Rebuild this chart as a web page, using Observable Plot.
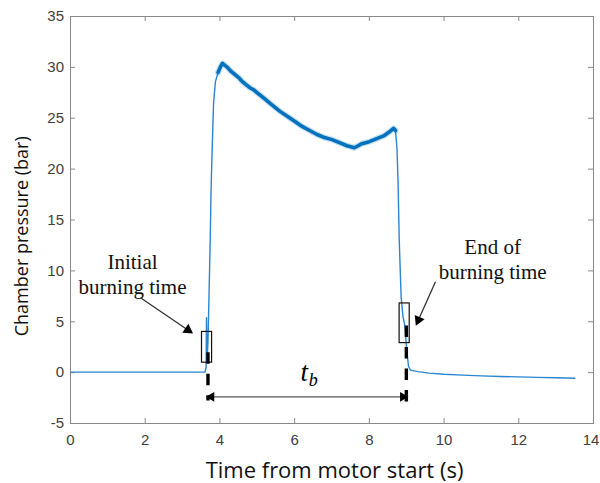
<!DOCTYPE html>
<html>
<head>
<meta charset="utf-8">
<script src="https://cdn.jsdelivr.net/npm/d3@7"></script>
<script src="https://cdn.jsdelivr.net/npm/@observablehq/plot@0.6"></script>
<style>
  html, body { margin: 0; padding: 0; background: #fff; }
  svg { display: block; }
</style>
</head>
<body>
<div id="chart"></div>
<script>
// Pressure trace
const time = [0, 1, 2, 3, 3.60, 3.63, 3.64, 3.655, 3.68, 3.71, 3.74, 3.76, 3.79, 3.83, 3.88, 3.95, 4.02, 4.07,
  4.1, 4.2, 4.3, 4.4, 4.5, 4.6, 4.7, 4.8, 4.9, 5.0, 5.2, 5.4, 5.6, 5.8, 6.0, 6.2, 6.4, 6.6, 6.8, 7.0, 7.2, 7.4, 7.6,
  7.7, 7.8, 8.0, 8.2, 8.4, 8.55, 8.65, 8.7, 8.74, 8.77, 8.80, 8.85, 8.9, 8.95, 9.0, 9.05, 9.1, 9.3, 9.6, 10, 10.5,
  11, 11.5, 12, 12.5, 13, 13.5];
const pressure = [0.05, 0.05, 0.05, 0.05, 0.05, 0.5, 5.4, 1.2, 3, 8, 13, 17.5, 21.7, 26.5, 28.6, 29.5, 30.1, 30.4,
  30.3, 30.0, 29.6, 29.3, 29.0, 28.6, 28.3, 28.0, 27.8, 27.5, 26.9, 26.3, 25.7, 25.2, 24.7, 24.2, 23.8, 23.4, 23.1, 22.9, 22.6, 22.3, 22.1,
  22.3, 22.5, 22.7, 23.0, 23.3, 23.7, 24.0, 23.8, 22, 18.5, 13, 7.5, 5.5, 4.6, 2.2, 0.6, 0.25, 0.1, -0.05, -0.16, -0.25,
  -0.32, -0.38, -0.42, -0.47, -0.51, -0.55];

// Axis ticks
const xTicks = [0, 2, 4, 6, 8, 10, 12, 14];
const yTicks = [-5, 0, 5, 10, 15, 20, 25, 30, 35];

// Annotation boxes around start / end of burning
const boxX1 = [3.52, 8.81];
const boxX2 = [3.79, 9.08];
const boxY1 = [0.98, 2.9];
const boxY2 = [4.0, 6.8];

// Dashed burning-time markers
const markT = [3.68, 8.99];
const markTop = [1.96, 4.58];
const markBottom = [-2.78, -2.97];

// Burning-time double arrow
const tbY = -2.38;

// Text labels
const labels = ["Initial\nburning time", "End of\nburning time"];
const labelX = [1.66, 11.30];
const labelY = [9.74, 11.2];

// Pointer arrows from labels to boxes
const ptrX1 = [1.874, 9.77];
const ptrY1 = [7.36, 8.93];
const ptrX2 = [3.21, 9.28];
const ptrY2 = [4.02, 4.91];
const ptrRot = [124.2, 204.1];

const data = time.map((t, i) => ({t, p: pressure[i]}));
const plateau = data.filter(d => d.t >= 3.95 && d.t <= 8.7);
const boxes = boxX1.map((x, i) => ({x1: x, x2: boxX2[i], y1: boxY1[i], y2: boxY2[i]}));
const marks = markT.map((t, i) => ({t, top: markTop[i], bottom: markBottom[i]}));
const lbls = labels.map((s, i) => ({s, x: labelX[i], y: labelY[i]}));
const ptrs = ptrX1.map((x, i) => ({x1: x, y1: ptrY1[i], x2: ptrX2[i], y2: ptrY2[i], r: ptrRot[i]}));

const W = 600, H = 483, mt = 16, mb = 60, ml = 70, mr = 7;
const innerH = H - mt - mb, innerW = W - ml - mr;
const grey = "#8a8a8a", tickText = "#404040";
const blue = "#0072BD";
const fmt = d => String(d); // hyphen-minus as in the original
const lastX = xTicks[xTicks.length - 1];

const chart = Plot.plot({
  width: W, height: H,
  marginTop: mt, marginBottom: mb, marginLeft: ml, marginRight: mr,
  style: {background: "#fff", fontFamily: "Liberation Sans, Arial, sans-serif"},
  x: {domain: [0, 14]},
  y: {domain: [-5, 35]},
  marks: [
    // ticks (inward, all four sides)
    Plot.ruleX(xTicks, {x: d => d, insetTop: innerH - 5, stroke: grey}),
    Plot.ruleX(xTicks, {x: d => d, insetBottom: innerH - 5, stroke: grey}),
    Plot.ruleY(yTicks, {y: d => d, insetRight: innerW - 5, stroke: grey}),
    Plot.ruleY(yTicks, {y: d => d, insetLeft: innerW - 5, stroke: grey}),
    Plot.axisX(xTicks.filter(d => d !== lastX), {tickSize: 0, tickPadding: 11, fontSize: 15, color: tickText, label: null, tickFormat: fmt}),
    Plot.axisX([lastX], {tickSize: 0, tickPadding: 11, fontSize: 15, color: tickText, label: null, tickFormat: fmt, dx: -2.5}),
    Plot.axisY(yTicks, {tickSize: 0, tickPadding: 6.5, fontSize: 15, color: tickText, label: null, tickFormat: fmt}),
    Plot.frame({stroke: grey, strokeWidth: 1}),
    // pressure trace
    Plot.line(data, {x: "t", y: "p", stroke: "#2a86d0", strokeWidth: 1.4}),
    Plot.line(plateau, {x: "t", y: "p", stroke: blue, strokeWidth: 6, strokeOpacity: 0.22, strokeLinejoin: "round"}),
    Plot.line(plateau, {x: "t", y: "p", stroke: blue, strokeWidth: 3.6, strokeLinejoin: "round"}),
    // boxes
    Plot.rect(boxes, {x1: "x1", x2: "x2", y1: "y1", y2: "y2", fill: "none", stroke: "#111", strokeWidth: 1.2}),
    // dashed markers
    Plot.ruleX(marks, {x: "t", y1: "top", y2: "bottom", stroke: "#000", strokeWidth: 3.4, strokeDasharray: "11.5,10"}),
    // t_b double arrow
    Plot.ruleY([tbY], {y: d => d, x1: markT[0], x2: markT[1], stroke: "#555", strokeWidth: 1.3}),
    Plot.dot([tbY], {x: markT[0], y: d => d, symbol: "triangle", r: 3.6, fill: "#000", stroke: "none", rotate: 270, dx: 3.5}),
    Plot.dot([tbY], {x: markT[1], y: d => d, symbol: "triangle", r: 3.6, fill: "#000", stroke: "none", rotate: 90, dx: -3.5}),
    Plot.text(["t"], {x: 6.26, y: -0.81, text: d => d, fontFamily: "Liberation Serif, serif", fontStyle: "italic", fontSize: 27, lineAnchor: "bottom", fill: "#000"}),
    Plot.text(["b"], {x: 6.50, y: -1.3, text: d => d, fontFamily: "Liberation Serif, serif", fontStyle: "italic", fontSize: 18, lineAnchor: "bottom", fill: "#000"}),
    // annotation labels and pointers
    Plot.text(lbls, {x: "x", y: "y", text: "s", fontFamily: "Liberation Serif, serif", fontSize: 21, lineHeight: 1.2, lineAnchor: "middle", fill: "#111"}),
    Plot.link(ptrs, {x1: "x1", y1: "y1", x2: "x2", y2: "y2", stroke: "#333", strokeWidth: 1.3}),
    Plot.dot(ptrs.slice(0, 1), {x: "x2", y: "y2", symbol: "triangle", r: 4, fill: "#000", stroke: "none", rotate: "r", dx: -2.5, dy: -1.7}),
    Plot.dot(ptrs.slice(1), {x: "x2", y: "y2", symbol: "triangle", r: 4, fill: "#000", stroke: "none", rotate: "r", dx: 1.2, dy: -2.7}),
    // axis titles
    Plot.text(["Chamber pressure (bar)"], {x: -1.29, y: 13.4, text: d => d, rotate: -90, fontFamily: "Open Sans, sans-serif", fontSize: 18, fill: "#111", lineAnchor: "middle"}),
    Plot.text(["Time from motor start (s)"], {frameAnchor: "bottom", text: d => d, dy: 47, dx: 2.5, fontFamily: "Open Sans, sans-serif", fontSize: 22, fill: "#111", lineAnchor: "middle"})
  ]
});
document.getElementById("chart").appendChild(chart);
</script>
</body>
</html>
